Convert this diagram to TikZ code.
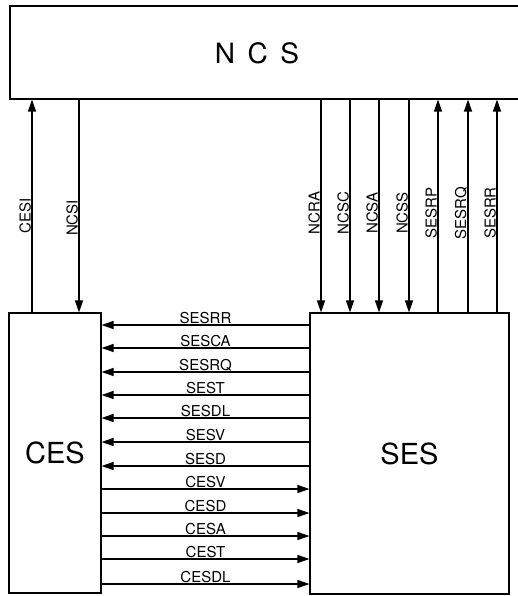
\documentclass[tikz,border=0pt]{standalone}
\usepackage{fontspec}
\setmainfont{TeX Gyre Heros}
\usetikzlibrary{arrows.meta}
\usetikzlibrary{calc}
\tikzset{
  % A system block
  sysbox/.style={
    draw=black, fill=white, line width=1.1pt, inner sep=0pt,
    font=\fontsize{29}{32}\selectfont,
    minimum width=#1},
  % Signals between blocks
  flow/.style={-{Triangle[length=12pt, width=8pt]}, draw=black, line width=1.1pt},
  lbl/.style={font=\fontsize{15}{17}\selectfont, inner sep=0.5pt},
  vlbl/.style={lbl, rotate=90, anchor=south},
}

\begin{document}
\begin{tikzpicture}[x=1pt, y=1pt]
\useasboundingbox (0,0) rectangle (518,-596);

\node[sysbox=516pt, minimum height=93pt] (ncs) at (268,-52.5) {};
\node[font=\fontsize{28}{30}\selectfont] (ncstext) at (257,-53) {N\hspace{0.45em}C\hspace{0.45em}S};
\node[sysbox=92pt, minimum height=280pt] (ces) at (55,-453) {CES};
\node[sysbox=199pt, minimum height=281pt] (ses) at (409.5,-453.5) {SES};

% CES <-> NCS
\draw[flow] (ces.north -| 32,0) -- node[vlbl, pos=0.453]{CESI} (ncs.south -| 32,0);
\draw[flow] (ncs.south -| 79,0) -- node[vlbl, pos=0.556]{NCSI} (ces.north -| 79,0);

% NCS <-> SES
\draw[flow] (ncs.south -| 321,0) -- node[vlbl, pos=0.533]{NCRA} (ses.north -| 321,0);
\draw[flow] (ncs.south -| 350,0) -- node[vlbl, pos=0.533]{NCSC} (ses.north -| 350,0);
\draw[flow] (ncs.south -| 379,0) -- node[vlbl, pos=0.533]{NCSA} (ses.north -| 379,0);
\draw[flow] (ncs.south -| 409,0) -- node[vlbl, pos=0.533]{NCSS} (ses.north -| 409,0);
\draw[flow] (ses.north -| 438,0) -- node[vlbl, pos=0.467]{SESRP} (ncs.south -| 438,0);
\draw[flow] (ses.north -| 468,0) -- node[vlbl, pos=0.467]{SESRQ} (ncs.south -| 468,0);
\draw[flow] (ses.north -| 497,0) -- node[vlbl, pos=0.467]{SESRR} (ncs.south -| 497,0);

% SES -> CES
\draw[flow] (ses.west |- 0,-325) -- node[lbl, midway, above]{SESRR} (ces.east |- 0,-325);
\draw[flow] (ses.west |- 0,-348) -- node[lbl, midway, above]{SESCA} (ces.east |- 0,-348);
\draw[flow] (ses.west |- 0,-372) -- node[lbl, midway, above]{SESRQ} (ces.east |- 0,-372);
\draw[flow] (ses.west |- 0,-395) -- node[lbl, midway, above]{SEST} (ces.east |- 0,-395);
\draw[flow] (ses.west |- 0,-418) -- node[lbl, midway, above]{SESDL} (ces.east |- 0,-418);
\draw[flow] (ses.west |- 0,-442) -- node[lbl, midway, above]{SESV} (ces.east |- 0,-442);
\draw[flow] (ses.west |- 0,-466) -- node[lbl, midway, above]{SESD} (ces.east |- 0,-466);

% CES -> SES
\draw[flow] (ces.east |- 0,-489) -- node[lbl, midway, above]{CESV} (ses.west |- 0,-489);
\draw[flow] (ces.east |- 0,-513) -- node[lbl, midway, above]{CESD} (ses.west |- 0,-513);
\draw[flow] (ces.east |- 0,-536) -- node[lbl, midway, above]{CESA} (ses.west |- 0,-536);
\draw[flow] (ces.east |- 0,-559) -- node[lbl, midway, above]{CEST} (ses.west |- 0,-559);
\draw[flow] (ces.east |- 0,-584) -- node[lbl, midway, above]{CESDL} (ses.west |- 0,-584);

\end{tikzpicture}
\end{document}
